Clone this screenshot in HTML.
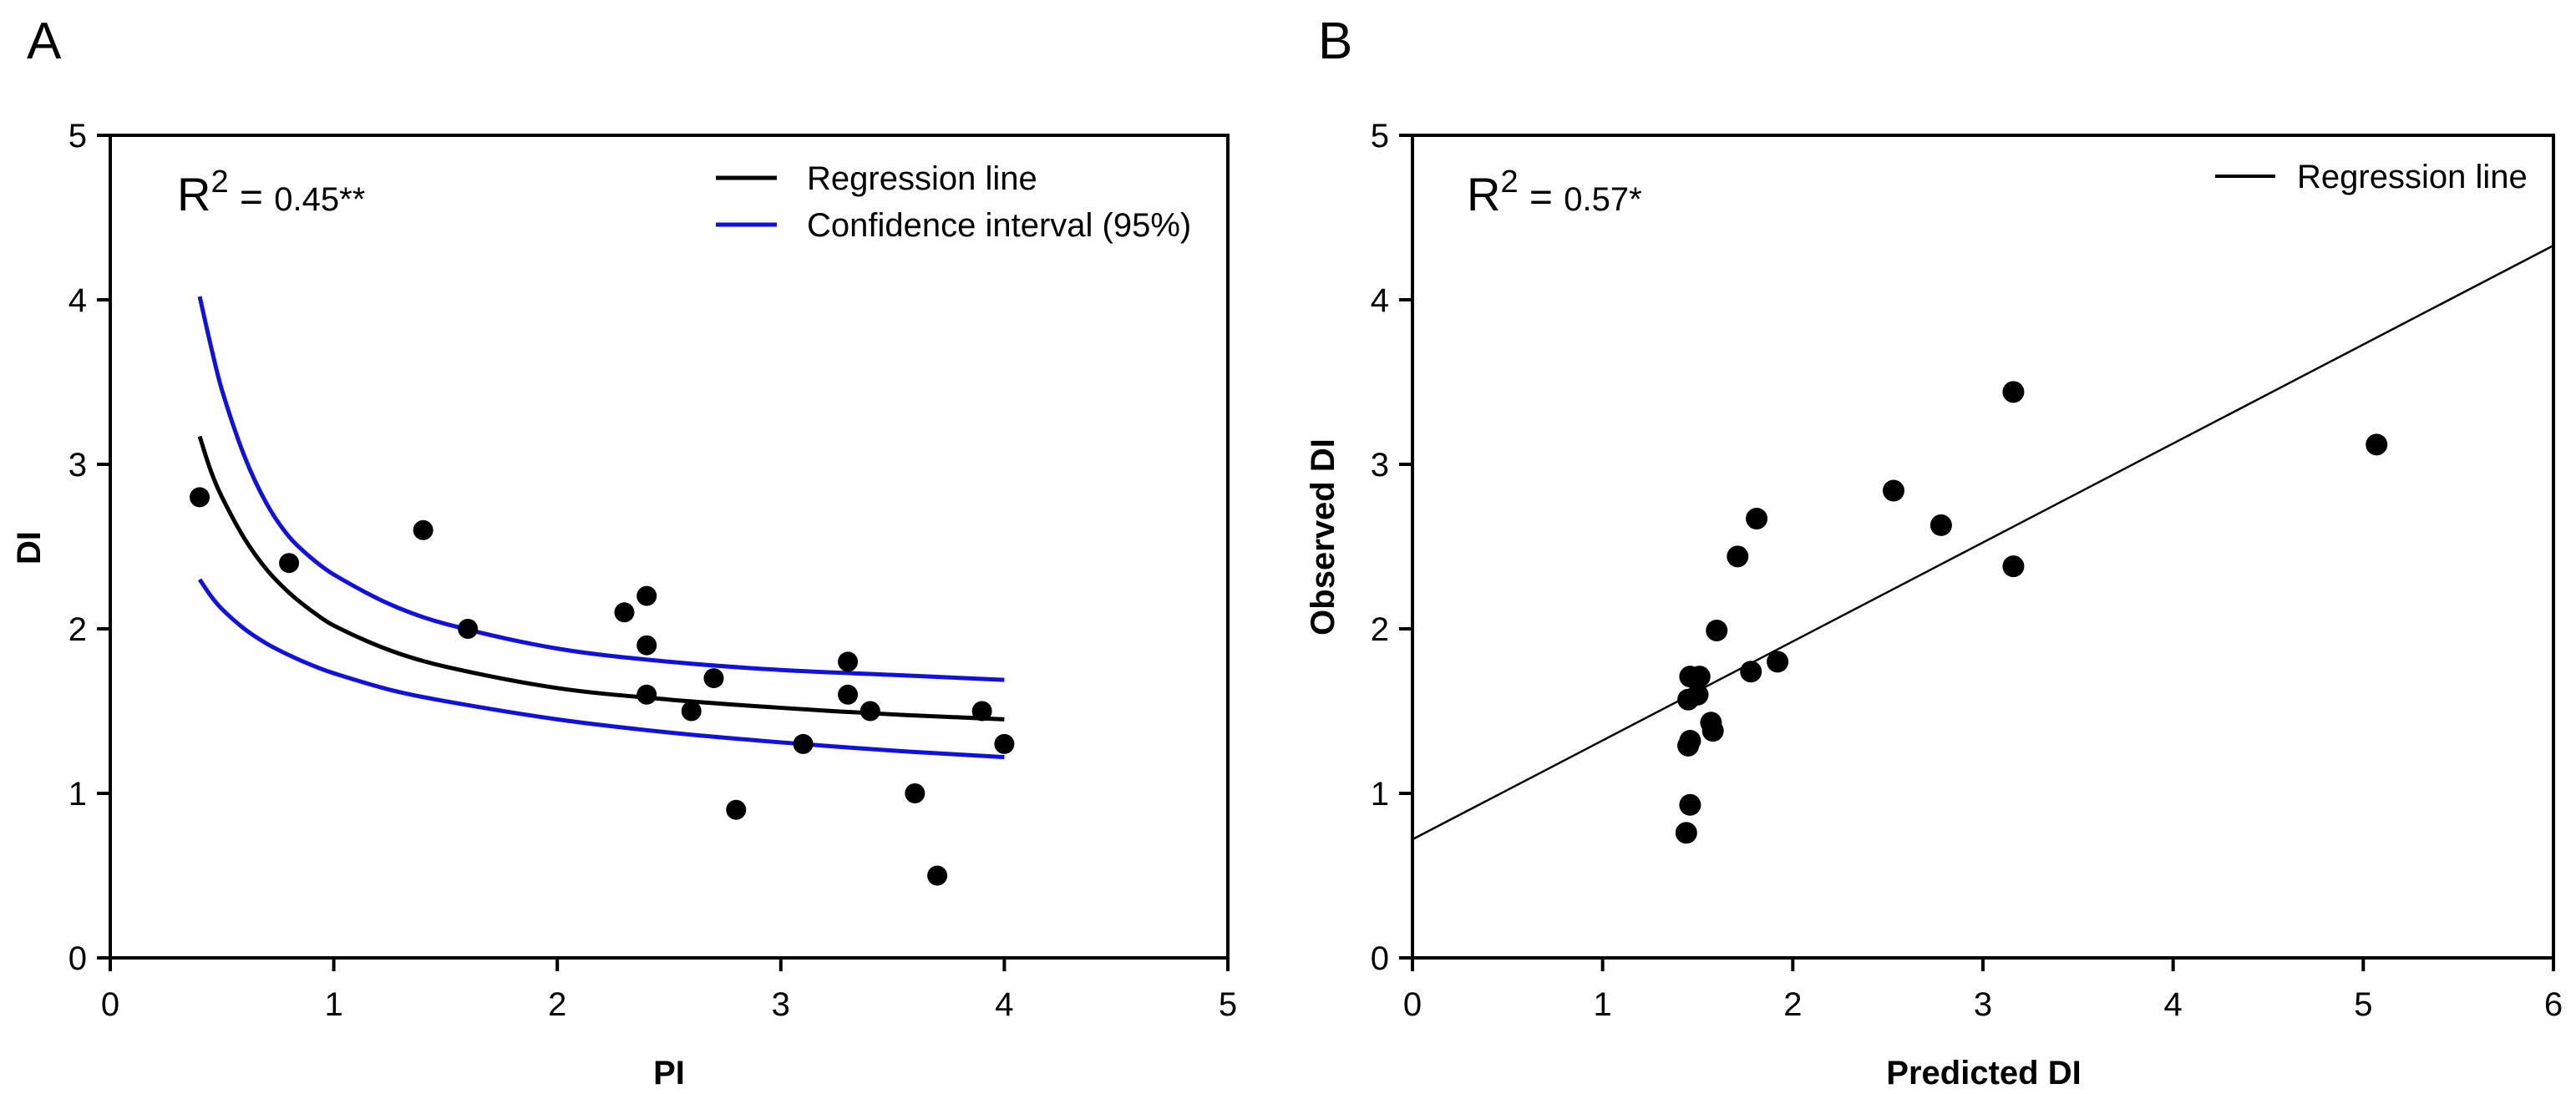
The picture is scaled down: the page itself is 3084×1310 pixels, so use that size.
<!DOCTYPE html>
<html><head><meta charset="utf-8"><style>
html,body{margin:0;padding:0;background:#fff;}
svg{display:block;font-family:"Liberation Sans",sans-serif;}
</style></head><body>
<svg id="fig" width="3084" height="1310" viewBox="0 0 3084 1310">
<text x="32" y="70" font-size="62">A</text>
<text x="1578" y="70" font-size="62">B</text>
<g id="pa"></g>
<g id="pb"></g>
</svg>
<script>
// Panel A data
const aXTicks = [0,1,2,3,4,5];
const aYTicks = [0,1,2,3,4,5];
const aPI = [0.4,0.8,1.4,1.6,2.3,2.4,2.4,2.4,2.6,2.7,2.8,3.1,3.3,3.3,3.4,3.6,3.7,3.9,4.0];
const aDI = [2.8,2.4,2.6,2.0,2.1,2.2,1.9,1.6,1.5,1.7,0.9,1.3,1.8,1.6,1.5,1.0,0.5,1.5,1.3];
const aCurveX = [0.4,0.45,0.5,0.6,0.7,0.8,0.9,1,1.25,1.5,2,2.5,3,3.5,4];
const aReg = [3.17,2.96,2.80,2.55,2.36,2.22,2.11,2.02,1.87,1.77,1.64,1.57,1.52,1.48,1.45];
const aUpper = [4.02,3.72,3.45,3.05,2.76,2.56,2.43,2.33,2.15,2.03,1.88,1.80,1.75,1.72,1.69];
const aLower = [2.30,2.20,2.12,2.00,1.91,1.84,1.78,1.73,1.63,1.56,1.45,1.37,1.31,1.26,1.22];
// Panel B data
const bXTicks = [0,1,2,3,4,5,6];
const bYTicks = [0,1,2,3,4,5];
const bPred = [1.44,1.46,1.45,1.46,1.45,1.46,1.51,1.50,1.57,1.58,1.60,1.71,1.81,1.78,1.92,2.53,2.78,3.16,3.16,5.07];
const bObs  = [0.76,0.93,1.29,1.32,1.57,1.71,1.71,1.60,1.43,1.38,1.99,2.44,2.67,1.74,1.80,2.84,2.63,3.44,2.38,3.12];
const bRegX = [0,6];
const bRegY = [0.72,4.33];

const NS="http://www.w3.org/2000/svg";
function mk(parent,tag,attrs,text){const e=document.createElementNS(NS,tag);for(const k in attrs)e.setAttribute(k,attrs[k]);if(text!==undefined)e.textContent=text;parent.appendChild(e);return e;}
function smooth(pts){let d=`M${pts[0][0]},${pts[0][1]}`;for(let i=0;i<pts.length-1;i++){const p0=pts[Math.max(0,i-1)],p1=pts[i],p2=pts[i+1],p3=pts[Math.min(pts.length-1,i+2)];
const d1=Math.hypot(p2[0]-p0[0],p2[1]-p0[1])||1,d2=Math.hypot(p3[0]-p1[0],p3[1]-p1[1])||1,s=Math.hypot(p2[0]-p1[0],p2[1]-p1[1])/3;
const c1=[p1[0]+(p2[0]-p0[0])/d1*s,p1[1]+(p2[1]-p0[1])/d1*s],c2=[p2[0]-(p3[0]-p1[0])/d2*s,p2[1]-(p3[1]-p1[1])/d2*s];d+=` C${c1[0]},${c1[1]} ${c2[0]},${c2[1]} ${p2[0]},${p2[1]}`;}return d;}

function axes(g,L,R,T,B,xmax,ymax,xt,yt){
  const sx=v=>L+(R-L)*v/xmax, sy=v=>B-(B-T)*v/ymax;
  const f=mk(g,'rect',{x:L,y:T,width:R-L,height:B-T,fill:'none',stroke:'#000','stroke-width':4});
  
  
  xt.forEach(v=>{
    const t=mk(g,'line',{x1:sx(v),x2:sx(v),y1:B,y2:B+16,stroke:'#000','stroke-width':4});
    
    
    const l=mk(g,'text',{x:sx(v),y:B+69,'font-size':40,'text-anchor':'middle'},v);
    
    
  });
  yt.forEach(v=>{
    const t=mk(g,'line',{x1:L-16,x2:L,y1:sy(v),y2:sy(v),stroke:'#000','stroke-width':4});
    
    
    const l=mk(g,'text',{x:L-28,y:sy(v)+14,'font-size':40,'text-anchor':'end'},v);
    
    
  });
  return [sx,sy];
}

// Panel A
(function(){
  const g=document.getElementById('pa');
  const [sx,sy]=axes(g,132,1470,162,1147,5,5,aXTicks,aYTicks);
  [[aUpper,'#1010e0','ci-upper-line'],[aLower,'#1010e0','ci-lower-line'],[aReg,'#000','regression-curve']].forEach(([arr,c,n])=>{
    const p=mk(g,'path',{d:smooth(aCurveX.map((x,i)=>[sx(x),sy(arr[i])])),fill:'none',stroke:c,'stroke-width':5});
    
    
  });
  aPI.forEach((x,i)=>{
    const c=mk(g,'circle',{cx:sx(x),cy:sy(aDI[i]),r:12,fill:'#000'});
    
    
  });
  const xt=mk(g,'text',{x:801,y:1298,'font-size':40,'font-weight':'bold','text-anchor':'middle'},'PI');
  
  
  const yt=mk(g,'text',{x:0,y:0,'font-size':40,'font-weight':'bold','text-anchor':'middle',transform:'translate(48,656) rotate(-90)'},'DI');
  
  
  const r=mk(g,'text',{x:212,y:252,'font-size':56});
  
  
  r.innerHTML='R<tspan dy="-22" font-size="38">2</tspan><tspan dy="22" font-size="48"> = </tspan><tspan font-size="40">0.45**</tspan>';
  [[213,'#000','Regression line','legend-regression'],[269,'#1010e0','Confidence interval (95%)','legend-ci']].forEach(([y,c,t,n])=>{
    const l=mk(g,'line',{x1:857,x2:930,y1:y,y2:y,stroke:c,'stroke-width':5});
    
    
    const tx=mk(g,'text',{x:966,y:y+14,'font-size':40},t);
    
    
  });
})();

// Panel B
(function(){
  const g=document.getElementById('pb');
  const [sx,sy]=axes(g,1691,3057,162,1147,6,5,bXTicks,bYTicks);
  const rl=mk(g,'line',{x1:sx(bRegX[0]),y1:sy(bRegY[0]),x2:sx(bRegX[1]),y2:sy(bRegY[1]),stroke:'#000','stroke-width':2.5});
  
  
  bPred.forEach((x,i)=>{
    const c=mk(g,'circle',{cx:sx(x),cy:sy(bObs[i]),r:13,fill:'#000'});
    
    
  });
  const xt=mk(g,'text',{x:2375,y:1298,'font-size':40,'font-weight':'bold','text-anchor':'middle'},'Predicted DI');
  
  
  const yt=mk(g,'text',{x:0,y:0,'font-size':40,'font-weight':'bold','text-anchor':'middle',transform:'translate(1597,643) rotate(-90)'},'Observed DI');
  
  
  const r=mk(g,'text',{x:1756,y:252,'font-size':56});
  
  
  r.innerHTML='R<tspan dy="-22" font-size="38">2</tspan><tspan dy="22" font-size="48"> = </tspan><tspan font-size="40">0.57*</tspan>';
  const l=mk(g,'line',{x1:2652,x2:2724,y1:211,y2:211,stroke:'#000','stroke-width':4});
  
  
  const tx=mk(g,'text',{x:2750,y:225,'font-size':40},'Regression line');
  
  
})();
</script>
</body></html>
